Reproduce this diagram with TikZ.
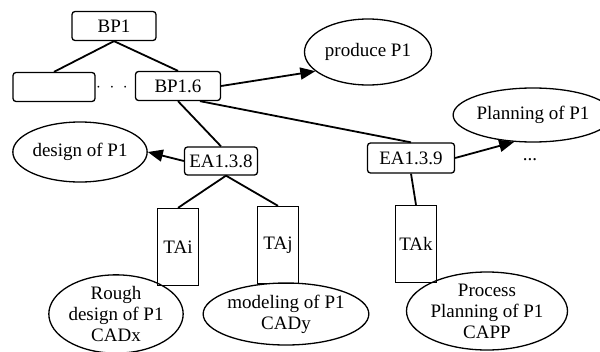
\documentclass[tikz,border=0pt]{standalone}
\usepackage{fontspec}
\setmainfont{Liberation Serif}
\usetikzlibrary{shapes.geometric,arrows.meta}
\begin{document}
\begin{tikzpicture}[x=1pt,y=-1pt,
    every node/.style={font=\fontsize{19}{21}\selectfont},
    bpbox/.style={draw,line width=1.3pt,rounded corners=3pt,inner sep=1pt,minimum height=29pt},
    tabox/.style={draw,line width=1.3pt,inner sep=0pt,minimum width=41pt,minimum height=77pt},
    oval/.style={draw,ellipse,line width=1.3pt,inner sep=0pt,align=center},
    link/.style={line width=1.8pt},
    arr/.style={link,-{Triangle[length=15pt,width=12pt]}}]
    \useasboundingbox (0,0) rectangle (600,351);
    % business processes
    \node[bpbox,minimum width=84pt] (BP1) at (114,26) {BP1};
    \node[bpbox,minimum width=82pt] (blank) at (54,87) {};
    \node (dots) at (112,88) {$\cdot\;\cdot\;\cdot$};
    \node[bpbox,minimum width=85pt] (BP16) at (178,86) {BP1.6};
    \node[oval,minimum width=127pt,minimum height=66pt] (produce) at (368,52) {produce P1};
    % elementary activities
    \node[bpbox,minimum width=73pt,minimum height=28pt] (EA138) at (221,161) {EA1.3.8};
    \node[bpbox,minimum width=87pt,minimum height=30pt] (EA139) at (411,158) {EA1.3.9};
    \node[oval,minimum width=125pt,minimum height=60pt] (design) at (80,152) {design of P1};
    \node[oval,minimum width=134pt,minimum height=54pt] (planning) at (533,115) {Planning of P1};
    \node (dots2) at (530,160) {...};
    % tool activities
    \node[tabox] (TAi) at (178,247) {TAi};
    \node[tabox] (TAj) at (278,245) {TAj};
    \node[tabox] (TAk) at (416,244) {TAk};
    \node[oval,minimum width=128pt,minimum height=76pt] (rough) at (116,314) {Rough\\design of P1\\CADx};
    \node[oval,minimum width=162pt,minimum height=62pt] (modeling) at (286,314) {modeling of P1\\CADy};
    \node[oval,minimum width=161pt,minimum height=78pt] (process) at (487,311) {Process\\Planning of P1\\CAPP};
    % connectors
    \draw[link] (BP1.south) -- (blank.north);
    \draw[link] (BP1.south) -- (BP16.north);
    \draw[arr] (BP16.east) -- (produce.200);
    \draw[link] (BP16.south) -- (EA138.north);
    \draw[link] ([xshift=22pt]BP16.south) -- (EA139.north);
    \draw[arr] (EA138.west) -- (design.east);
    \draw[arr] (EA139.east) -- (planning.235);
    \draw[link] ([xshift=5pt]EA138.south) -- (TAi.north);
    \draw[link] ([xshift=5pt]EA138.south) -- (TAj.north);
    \draw[link] (EA139.south) -- (TAk.north);
\end{tikzpicture}
\end{document}
